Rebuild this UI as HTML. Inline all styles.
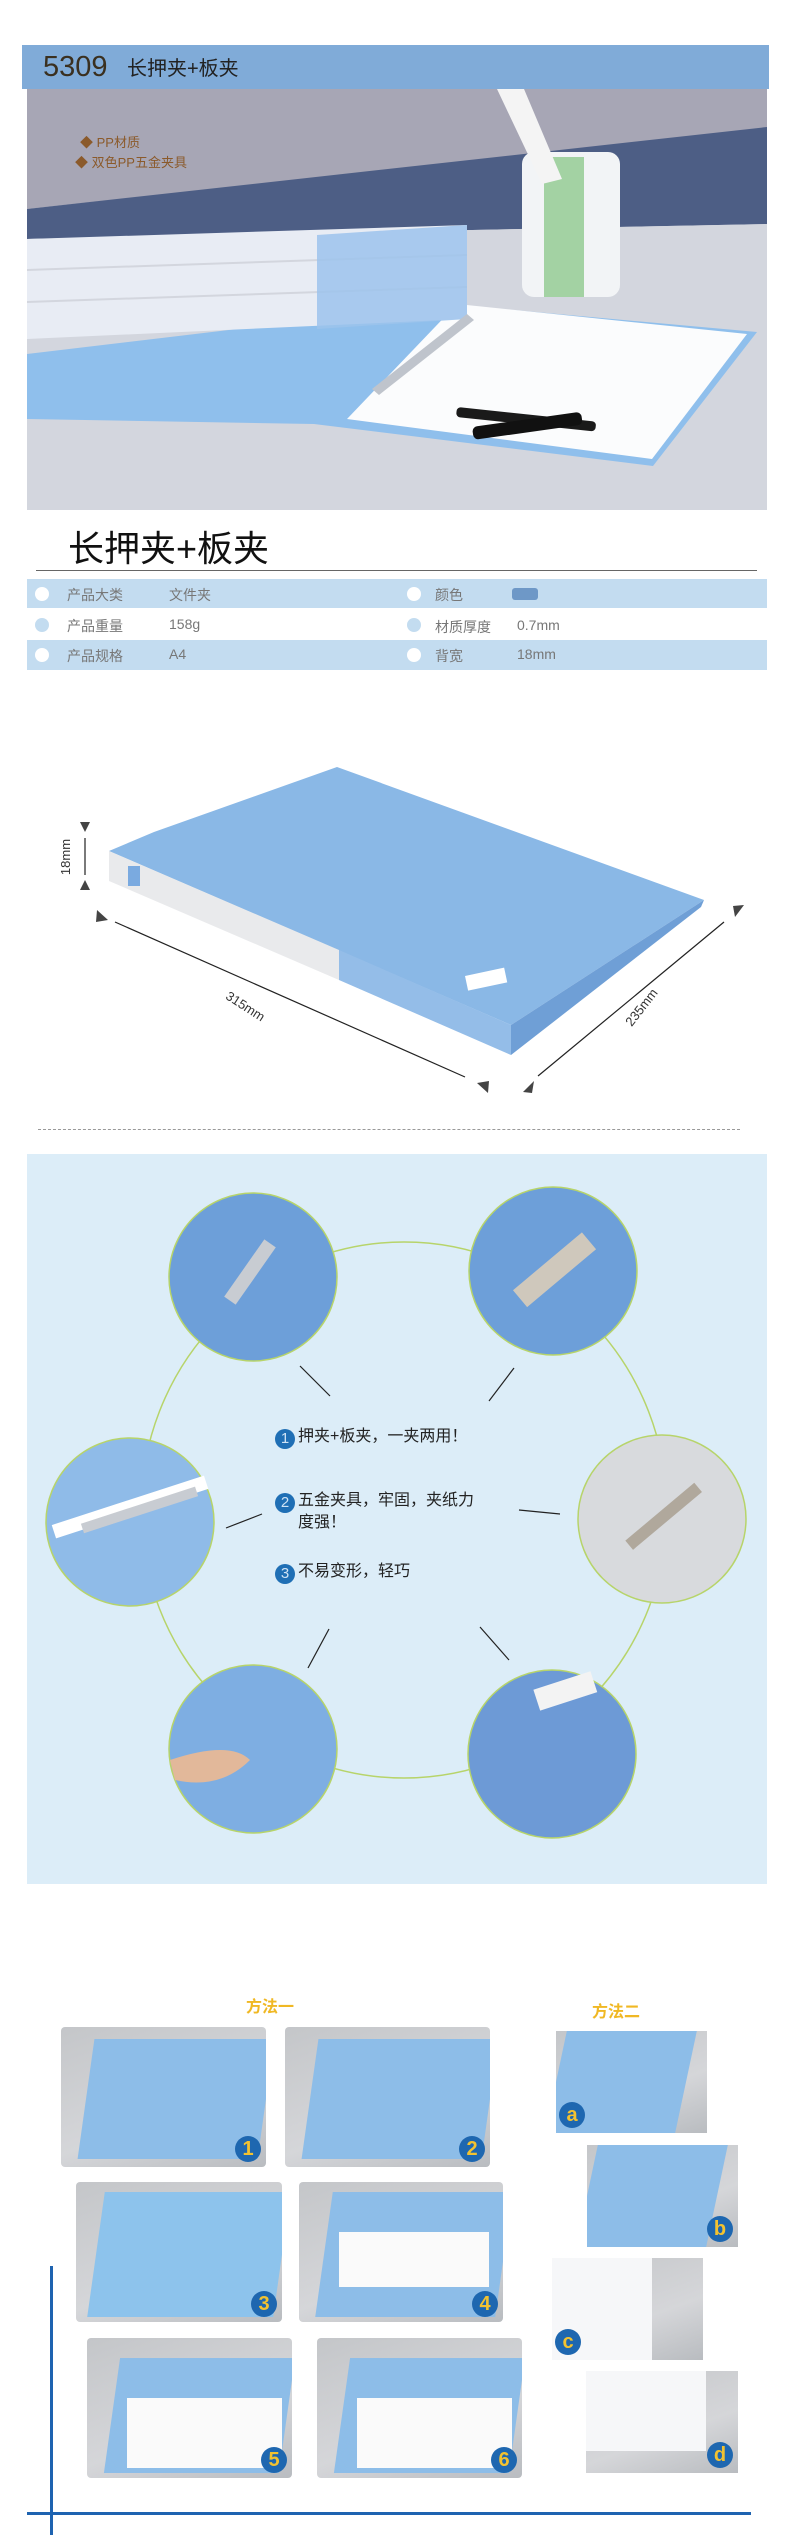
<!DOCTYPE html>
<html><head><meta charset="utf-8">
<style>
*{margin:0;padding:0;box-sizing:border-box}
body{width:790px;height:2535px;background:#fff;position:relative;overflow:hidden;font-family:"Liberation Sans","Noto Sans CJK SC",sans-serif}
.a{position:absolute}
.row{position:absolute;left:27px;width:740px;height:30px}
.row span{position:absolute;top:6px;font-size:14px;color:#777}
.dot{position:absolute;top:8px;width:14px;height:14px;border-radius:50%}
.txt{font-size:16px;color:#222}
.badge{display:inline-block;width:20px;height:20px;border-radius:50%;background:#1f6fb5;color:#cfe3f5;font-size:15px;text-align:center;line-height:20px;margin-right:3px;vertical-align:-2px}
.ph{position:absolute;background:linear-gradient(160deg,#c4c6c9 0%,#d5d6d9 60%,#b9bcc0 100%);overflow:hidden;border-radius:4px}
.num{position:absolute;right:5px;bottom:5px;width:26px;height:26px;border-radius:50%;background:#1e67b0;color:#f2c230;font-size:20px;text-align:center;line-height:26px;font-weight:bold}
</style></head><body>

<!-- header -->
<div class="a" style="left:22px;top:45px;width:747px;height:44px;background:#80abd8"></div>
<div class="a" style="left:43px;top:47px;font-size:29px;color:#3a3020;line-height:40px">5309</div>
<div class="a" style="left:127px;top:54px;font-size:20px;color:#222;line-height:30px">长押夹+板夹</div>

<!-- photo -->
<svg class="a" style="left:27px;top:89px" width="740" height="421" viewBox="0 0 740 421">
<rect width="740" height="421" fill="#d6d8df"/>
<polygon points="0,0 740,0 740,40 0,120" fill="#a7a6b5"/>
<polygon points="0,120 740,38 740,135 0,150" fill="#4d5e85"/>
<polygon points="0,150 740,135 740,421 0,421" fill="#d3d6de"/>
<rect x="495" y="63" width="98" height="145" rx="12" fill="#f2f4f6"/>
<rect x="517" y="68" width="40" height="140" fill="#a3d2a3"/>
<polygon points="470,0 497,0 535,90 515,95" fill="#f4f4f4"/>
<polygon points="0,265 420,215 730,243 626,377 287,335 0,330" fill="#8fbfec"/>
<polygon points="320,330 625,370 720,245 430,215" fill="#fbfcfd"/>
<polygon points="0,150 440,136 440,165 0,180" fill="#e8ecf4"/>
<polygon points="0,182 440,167 440,197 0,212" fill="#e8ecf4"/>
<polygon points="0,214 440,199 440,230 0,250" fill="#e8ecf4"/>
<polygon points="290,146 440,136 440,230 290,240" fill="#9cc3ec" opacity=".85"/>
<rect x="430" y="318" width="140" height="10" rx="4" fill="#1a1a1a" transform="rotate(6 430 318)"/>
<rect x="445" y="338" width="110" height="13" rx="5" fill="#111" transform="rotate(-8 445 338)"/>
<polygon points="345,300 440,225 447,231 352,306" fill="#bfc4cc"/>
</svg>
<div class="a" style="left:80px;top:132px;font-size:13px;color:#8b5a2b">◆ PP材质</div>
<div class="a" style="left:75px;top:152px;font-size:13px;color:#8b5a2b">◆ 双色PP五金夹具</div>

<!-- title + table -->
<div class="a" style="left:68px;top:528px;font-size:36px;color:#111;line-height:42px">长押夹+板夹</div>
<div class="a" style="left:36px;top:570px;width:721px;height:1px;background:#666"></div>
<div class="row" style="top:579px;height:29px;background:#c3dcf0">
 <div class="dot" style="left:8px;background:#fff"></div><span style="left:40px">产品大类</span><span style="left:142px">文件夹</span>
 <div class="dot" style="left:380px;background:#fff"></div><span style="left:408px">颜色</span>
 <div class="a" style="left:485px;top:9px;width:26px;height:12px;border-radius:3px;background:#6e98c7"></div></div>
<div class="row" style="top:608px;height:32px;background:#fff">
 <div class="dot" style="left:8px;background:#c3dcf0;top:10px"></div><span style="left:40px;top:8px">产品重量</span><span style="left:142px;top:8px">158g</span>
 <div class="dot" style="left:380px;background:#c3dcf0;top:10px"></div><span style="left:408px;top:9px">材质厚度</span><span style="left:490px;top:9px">0.7mm</span></div>
<div class="row" style="top:640px;background:#c3dcf0">
 <div class="dot" style="left:8px;background:#fff"></div><span style="left:40px">产品规格</span><span style="left:142px">A4</span>
 <div class="dot" style="left:380px;background:#fff"></div><span style="left:408px">背宽</span><span style="left:490px">18mm</span></div>

<!-- dimension diagram -->
<svg class="a" style="left:0;top:700px" width="790" height="420" viewBox="0 700 790 420">
<polygon points="109,851 154,832 337,767 704,900 511,1025" fill="#8ab8e6"/>
<polygon points="109,851 339,950 339,980 109,881" fill="#e9eaec"/>
<polygon points="339,950 511,1025 511,1055 339,980" fill="#94bde8"/>
<polygon points="704,900 701,907 511,1055 511,1025" fill="#6f9fd6"/>
<rect x="128" y="866" width="12" height="20" fill="#7aaae0"/>
<rect x="465" y="976" width="40" height="15" fill="#fff" transform="rotate(-12 465 976)"/>
<g stroke="#222" stroke-width="1.2" fill="none">
<line x1="85" y1="838" x2="85" y2="875"/>
<line x1="115" y1="922" x2="465" y2="1077"/>
<line x1="538" y1="1076" x2="724" y2="922"/>
</g>
<g fill="#444">
<polygon points="80,822 90,822 85,832"/><polygon points="80,890 90,890 85,880"/>
<polygon points="97,910 108,920 96,922"/><polygon points="488,1093 477,1083 489,1081"/>
<polygon points="523,1092 534,1081 532,1093"/><polygon points="744,905 735,917 733,906"/>
</g>
<text x="70" y="857" font-size="13" fill="#333" text-anchor="middle" transform="rotate(-90 70 857)" font-family="Liberation Sans">18mm</text>
<text x="243" y="1010" font-size="13" fill="#333" text-anchor="middle" transform="rotate(33 243 1010)" font-family="Liberation Sans">315mm</text>
<text x="645" y="1010" font-size="13" fill="#333" text-anchor="middle" transform="rotate(-52 645 1010)" font-family="Liberation Sans">235mm</text>
</svg>

<!-- dashed -->
<div class="a" style="left:38px;top:1129px;width:702px;border-top:1px dashed #999"></div>

<!-- features panel -->
<div class="a" style="left:27px;top:1154px;width:740px;height:730px;background:#dcedf8"></div>
<svg class="a" style="left:0;top:1154px" width="790" height="730" viewBox="0 1154 790 730">
<ellipse cx="404" cy="1510" rx="263" ry="268" fill="none" stroke="#b7d46a" stroke-width="1.5"/>
<g stroke="#222" stroke-width="1.2">
<line x1="300" y1="1366" x2="330" y2="1396"/><line x1="514" y1="1368" x2="489" y2="1401"/>
<line x1="226" y1="1528" x2="262" y2="1514"/><line x1="519" y1="1510" x2="560" y2="1514"/>
<line x1="329" y1="1629" x2="308" y2="1668"/><line x1="480" y1="1627" x2="509" y2="1660"/>
</g>
<g stroke="#b7d46a" stroke-width="1.5">
<circle cx="253" cy="1277" r="84" fill="#6d9fd9"/>
<circle cx="553" cy="1271" r="84" fill="#6d9fd9"/>
<circle cx="130" cy="1522" r="84" fill="#8fbbe8"/>
<circle cx="662" cy="1519" r="84" fill="#d8dadd"/>
<circle cx="253" cy="1749" r="84" fill="#7eaee2"/>
<circle cx="552" cy="1754" r="84" fill="#6d9ad6"/>
</g>
<rect x="215" y="1265" width="70" height="14" fill="#c8ccd2" transform="rotate(-55 250 1272)"/>
<rect x="510" y="1260" width="90" height="22" fill="#cfc8bc" transform="rotate(-40 553 1271)"/>
<rect x="50" y="1500" width="160" height="14" fill="#fff" transform="rotate(-18 130 1507)"/>
<rect x="80" y="1508" width="120" height="10" fill="#c8ccd2" transform="rotate(-18 130 1513)"/>
<rect x="620" y="1512" width="90" height="12" fill="#b0a89c" transform="rotate(-40 662 1519)"/>
<path d="M170,1760 Q230,1740 250,1760 Q220,1790 175,1780Z" fill="#e2b89a"/>
<rect x="535" y="1680" width="60" height="22" fill="#f3f3f3" transform="rotate(-18 565 1690)"/>
</svg>
<div class="a txt" style="left:275px;top:1422px"><span class="badge">1</span>押夹+板夹，一夹两用！</div>
<div class="a txt" style="left:275px;top:1486px"><span class="badge">2</span>五金夹具，牢固，夹纸力</div>
<div class="a txt" style="left:298px;top:1508px">度强！</div>
<div class="a txt" style="left:275px;top:1557px"><span class="badge">3</span>不易变形，轻巧</div>

<!-- methods -->
<div class="a" style="left:246px;top:1993px;font-size:16px;font-weight:bold;color:#f0b824">方法一</div>
<div class="a" style="left:592px;top:1998px;font-size:16px;font-weight:bold;color:#f0b824">方法二</div>

<div class="ph" style="left:61px;top:2027px;width:205px;height:140px"><div class="a" style="left:25px;top:12px;width:180px;height:120px;background:#8dbde8;transform:skewX(-8deg)"></div><div class="num">1</div></div>
<div class="ph" style="left:285px;top:2027px;width:205px;height:140px"><div class="a" style="left:25px;top:12px;width:180px;height:120px;background:#8dbde8;transform:skewX(-8deg)"></div><div class="num">2</div></div>
<div class="ph" style="left:76px;top:2182px;width:206px;height:140px"><div class="a" style="left:20px;top:10px;width:186px;height:125px;background:#8dc3ec;transform:skewX(-8deg)"></div><div class="num">3</div></div>
<div class="ph" style="left:299px;top:2182px;width:204px;height:140px"><div class="a" style="left:25px;top:10px;width:180px;height:125px;background:#8dbde8;transform:skewX(-8deg)"></div><div class="a" style="left:40px;top:50px;width:150px;height:55px;background:#fafafa"></div><div class="num">4</div></div>
<div class="ph" style="left:87px;top:2338px;width:205px;height:140px"><div class="a" style="left:25px;top:20px;width:175px;height:115px;background:#8dbde8;transform:skewX(-8deg)"></div><div class="a" style="left:40px;top:60px;width:155px;height:70px;background:#fafafa"></div><div class="num">5</div></div>
<div class="ph" style="left:317px;top:2338px;width:205px;height:140px"><div class="a" style="left:25px;top:20px;width:175px;height:115px;background:#8dbde8;transform:skewX(-8deg)"></div><div class="a" style="left:40px;top:60px;width:155px;height:70px;background:#fafafa"></div><div class="num">6</div></div>

<div class="ph" style="left:556px;top:2031px;width:151px;height:102px;border-radius:0"><div class="a" style="left:0;top:0;width:130px;height:102px;background:#8dbde8;transform:skewX(-12deg)"></div><div class="num" style="left:3px;right:auto">a</div></div>
<div class="ph" style="left:587px;top:2145px;width:151px;height:102px;border-radius:0"><div class="a" style="left:0;top:0;width:130px;height:102px;background:#8dbde8;transform:skewX(-12deg)"></div><div class="num">b</div></div>
<div class="ph" style="left:552px;top:2258px;width:151px;height:102px;border-radius:0"><div class="a" style="left:0;top:0;width:100px;height:102px;background:#f6f7f9"></div><div class="num" style="left:3px;right:auto">c</div></div>
<div class="ph" style="left:586px;top:2371px;width:152px;height:102px;border-radius:0"><div class="a" style="left:0;top:0;width:120px;height:80px;background:#f6f7f9"></div><div class="num">d</div></div>

<div class="a" style="left:50px;top:2266px;width:3px;height:269px;background:#1e63b0"></div>
<div class="a" style="left:27px;top:2512px;width:724px;height:3px;background:#1e63b0"></div>
</body></html>
